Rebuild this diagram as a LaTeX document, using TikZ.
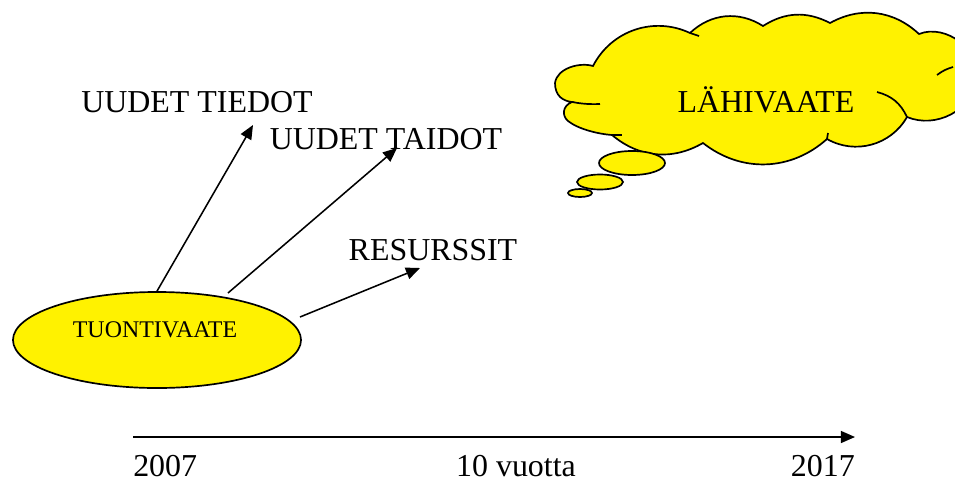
\documentclass[tikz,border=0pt]{standalone}
\usepackage{fontspec}
\setmainfont{Liberation Serif}
\usetikzlibrary{shapes,arrows.meta,positioning}

\tikzset{
  txt/.style={font=\fontsize{22.7}{27}\selectfont, inner sep=0pt},
  arr/.style={-{Triangle[length=10pt,width=8.5pt]}, line width=1.1pt},
  blob/.style={draw, fill=yellow, line width=1.2pt, inner sep=0pt},
}

\begin{document}
\begin{tikzpicture}[x=0.025cm,y=-0.025cm]
  \useasboundingbox (0,0) rectangle (955,482);
  \clip (0,0) rectangle (955,482);

  % left ellipse
  \node[blob, ellipse, minimum width=7.2cm, minimum height=2.4cm] (tuonti) at (157,340) {};
  \node[font=\fontsize{17}{20}\selectfont, inner sep=0pt] (tuontitxt) at (155,330) {TUONTIVAATE};

  % thought cloud, drawn lobe by lobe
  \draw[blob] (593,66) to[bend left=44] (690,33) to[bend left=38] (763,26)
    to[bend left=30] (830,23) to[bend left=36] (919,34) to[bend left=60] (978,80)
    to[bend left=50] (907,117) to[bend left=45] (827,139) to[bend left=40] (703,143)
    to[bend left=35] (612,135) .. controls (598,134) and (578,129) .. (568,121)
    .. controls (562,116) and (562,106) .. (572,102)
    .. controls (563,101) and (555,96) .. (555,83)
    .. controls (557,68) and (580,62) .. (593,66) -- cycle;
  \draw[line width=1.2pt] (572,102) to[bend right=6] (600,104);
  \draw[line width=1.2pt] (612,135) -- (622,135);
  \draw[line width=1.2pt] (877,92) to[bend left=25] (907,117);
  \draw[line width=1.2pt] (937,75) to[bend left=10] (953,67);
  \draw[line width=1.2pt] (690,33) -- (699,36);
  \draw[line width=1.2pt] (827,139) -- (828,133);
  \node[txt] (lahi) at (766,100) {LÄHIVAATE};
  \node[blob, ellipse, minimum width=1.65cm, minimum height=0.6cm] (bub1) at (632,163) {};
  \node[blob, ellipse, minimum width=1.15cm, minimum height=0.375cm] (bub2) at (600,182) {};
  \node[blob, ellipse, minimum width=0.6cm, minimum height=0.2cm] (bub3) at (580,193) {};

  \node[txt] (tiedot) at (197,102) {UUDET TIEDOT};
  \node[txt] (taidot) at (386,139) {UUDET TAIDOT};
  \node[txt] (res) at (433,250) {RESURSSIT};

  \coordinate (e1) at (253,125);
  \coordinate (s2) at (228,293);
  \coordinate (e2) at (397,148);
  \coordinate (s3) at (300,317);
  \coordinate (e3) at (420,268);

  \draw[arr] (tuonti.north) -- (e1);
  \draw[arr] (s2) -- (e2);
  \draw[arr] (s3) -- (e3);

  % timeline
  \coordinate (t0) at (133,437);
  \coordinate (t1) at (855,437);
  \draw[arr] (t0) -- (t1);
  \node[txt, anchor=west] (y0) at (133,466) {2007};
  \node[txt] (mid) at (516,466) {10 vuotta};
  \node[txt, anchor=east] (y1) at (855,466) {2017};

\end{tikzpicture}
\end{document}
